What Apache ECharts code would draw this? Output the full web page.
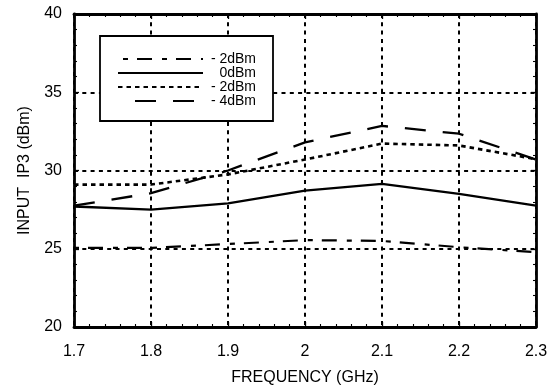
<!DOCTYPE html>
<html>
<head>
<meta charset="utf-8">
<script src="https://cdn.jsdelivr.net/npm/echarts@6/dist/echarts.min.js"></script>
<style>html,body{margin:0;padding:0;background:#fff}#c{width:552px;height:391px}</style>
</head>
<body>
<div id="c"></div>
<script>
var freq = [1.7, 1.8, 1.9, 2.0, 2.1, 2.2, 2.3];
var seriesNames = ['- 2dBm', '0dBm', '- 2dBm ', '- 4dBm'];
var legendLabels = ['- 2dBm', '0dBm', '- 2dBm', '- 4dBm'];
var plus2 = [25.05, 25.05, 25.3, 25.55, 25.5, 25.1, 24.78];
var zero = [27.7, 27.5, 27.9, 28.72, 29.15, 28.5, 27.75];
var minus2 = [29.1, 29.1, 29.75, 30.7, 31.72, 31.6, 30.72];
var minus4 = [27.75, 28.55, 30.0, 31.8, 32.85, 32.35, 30.7];
var xTicks = {min: 1.7, max: 2.3, interval: 0.1};
var yTicks = {min: 20, max: 40, interval: 5};

var FONT = 'Liberation Sans, Arial, Helvetica, sans-serif';
function pairs(v) { return freq.map(function (f, i) { return [f, v[i]]; }); }

var axisLine = {show: true, lineStyle: {color: '#000', width: 2.8}};
var tick = {show: true, inside: true, length: 5, lineStyle: {color: '#000', width: 1.3}};
var minor = {show: true, splitNumber: 5, length: 3, lineStyle: {color: '#000', width: 1.1}};
var grid = {show: true, lineStyle: {color: '#000', width: 2, type: [4, 4.3]}};

var chart = echarts.init(document.getElementById('c'), null, {renderer: 'canvas'});
chart.setOption({
  animation: false,
  backgroundColor: '#fff',
  textStyle: {fontFamily: FONT, color: '#000'},
  grid: {left: 74, right: 16, top: 14, bottom: 62},
  xAxis: [{
    type: 'value', min: xTicks.min, max: xTicks.max, interval: xTicks.interval,
    position: 'bottom',
    name: 'FREQUENCY (GHz)', nameLocation: 'middle', nameGap: 43,
    nameTextStyle: {fontSize: 16, color: '#000', fontFamily: FONT},
    axisLine: axisLine, axisTick: tick, minorTick: minor, splitLine: grid,
    axisLabel: {fontSize: 16, color: '#000', margin: 17, fontFamily: FONT}
  }, {
    type: 'value', min: xTicks.min, max: xTicks.max, interval: xTicks.interval,
    position: 'top',
    axisLine: axisLine, axisTick: tick, minorTick: minor, splitLine: {show: false},
    axisLabel: {show: false}
  }],
  yAxis: [{
    type: 'value', min: yTicks.min, max: yTicks.max, interval: yTicks.interval,
    position: 'left',
    name: 'INPUT  IP3 (dBm)', nameLocation: 'middle', nameGap: 41,
    nameTextStyle: {fontSize: 16, color: '#000', fontFamily: FONT},
    axisLine: axisLine, axisTick: tick, minorTick: minor, splitLine: grid,
    axisLabel: {fontSize: 16, color: '#000', margin: 12, fontFamily: FONT}
  }, {
    type: 'value', min: yTicks.min, max: yTicks.max, interval: yTicks.interval,
    position: 'right',
    axisLine: axisLine, axisTick: tick, minorTick: minor, splitLine: {show: false},
    axisLabel: {show: false}
  }],
  legend: {
    orient: 'vertical', left: 100, top: 36,
    padding: [16, 17, 13, 17],
    itemWidth: 85, itemHeight: 14, itemGap: 0,
    backgroundColor: '#fff', borderColor: '#000', borderWidth: 1.8,
    selectedMode: false,
    itemStyle: {color: 'rgba(0,0,0,0)', borderWidth: 0, opacity: 0},
    data: [
      {name: seriesNames[0], lineStyle: {dashOffset: 34}},
      {name: seriesNames[1]},
      {name: seriesNames[2]},
      {name: seriesNames[3], lineStyle: {dashOffset: 21}}
    ],
    formatter: function (n) { return '{r|' + legendLabels[seriesNames.indexOf(n)] + '}'; },
    textStyle: {fontSize: 14, fontFamily: FONT, color: '#000',
      rich: {r: {width: 48, align: 'right', fontSize: 14, fontFamily: FONT, color: '#000'}}}
  },
  series: [
    {name: seriesNames[0], type: 'line', data: pairs(plus2), symbol: 'none',
     lineStyle: {color: '#000', width: 2.2, type: [5, 9, 15, 10]}, itemStyle: {color: '#000'}},
    {name: seriesNames[1], type: 'line', data: pairs(zero), symbol: 'none',
     lineStyle: {color: '#000', width: 2.3, type: 'solid'}, itemStyle: {color: '#000'}},
    {name: seriesNames[2], type: 'line', data: pairs(minus2), symbol: 'none',
     lineStyle: {color: '#000', width: 2.6, type: [4.5, 4]}, itemStyle: {color: '#000'}},
    {name: seriesNames[3], type: 'line', data: pairs(minus4), symbol: 'none',
     lineStyle: {color: '#000', width: 2.3, type: [21, 17]}, itemStyle: {color: '#000'}}
  ]
});
</script>
</body>
</html>
